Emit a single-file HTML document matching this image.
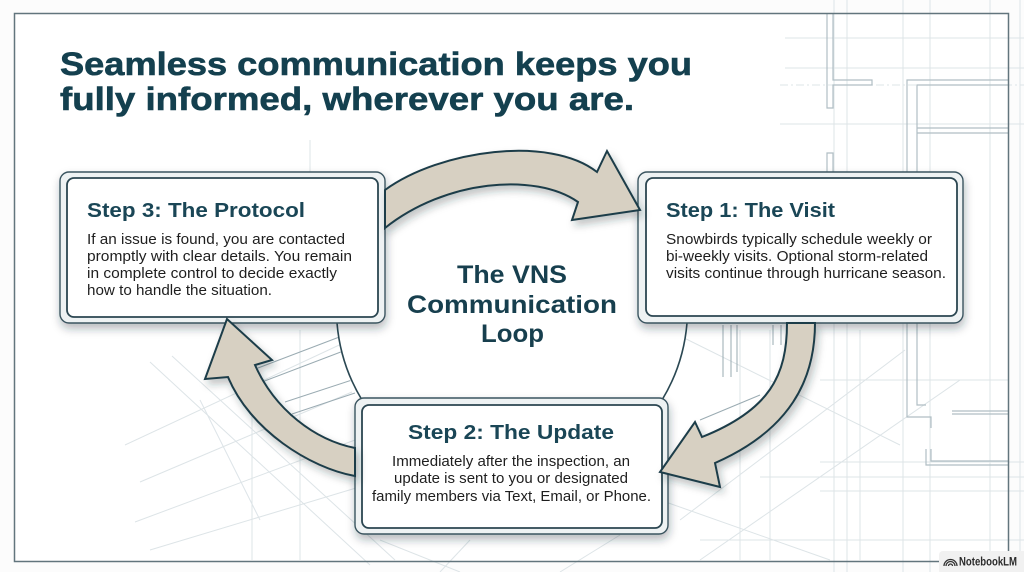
<!DOCTYPE html>
<html><head><meta charset="utf-8">
<style>
html,body{margin:0;padding:0;background:#fff;width:1024px;height:572px;overflow:hidden;}
svg{display:block;}
text{font-family:"Liberation Sans",Arial,sans-serif;}
</style></head><body>
<svg width="1024" height="572" viewBox="0 0 1024 572" xmlns="http://www.w3.org/2000/svg">
<defs>
<filter id="sh" x="-10%" y="-15%" width="120%" height="140%">
<feDropShadow dx="1" dy="5" stdDeviation="4.5" flood-color="#1b2a30" flood-opacity="0.32"/>
</filter>
<filter id="ash" x="-20%" y="-20%" width="140%" height="150%">
<feDropShadow dx="3" dy="5" stdDeviation="4" flood-color="#1b2a30" flood-opacity="0.28"/>
</filter>
</defs>

<rect width="1024" height="572" fill="#fcfcfc"/>
<rect x="14.5" y="13.5" width="994" height="548" fill="#ffffff"/>

<!-- light blueprint grid -->
<g stroke="#dde4e7" stroke-width="1" fill="none">
<line x1="834" y1="0" x2="834" y2="572"/>
<line x1="847" y1="0" x2="847" y2="572"/>
<line x1="903" y1="0" x2="903" y2="572"/>
<line x1="930" y1="0" x2="930" y2="572"/>
<line x1="990" y1="0" x2="990" y2="572"/>
<line x1="1020" y1="0" x2="1020" y2="572"/>
<line x1="785" y1="38" x2="1024" y2="38"/>
<line x1="785" y1="68" x2="1024" y2="68"/>
<line x1="780" y1="124" x2="1024" y2="124"/>
<line x1="820" y1="462" x2="1024" y2="462"/>
<line x1="760" y1="477" x2="1024" y2="477"/>
<line x1="820" y1="491" x2="1024" y2="491"/>
<line x1="700" y1="540" x2="1024" y2="540"/>
<line x1="780" y1="85" x2="1024" y2="85" stroke-dasharray="8 3 2 3"/>
<line x1="310" y1="140" x2="310" y2="175"/>
<!-- left / bottom perspective lines -->
<line x1="150" y1="362" x2="370" y2="565"/>
<line x1="172" y1="356" x2="395" y2="560"/>
<line x1="125" y1="445" x2="350" y2="340"/>
<line x1="140" y1="482" x2="352" y2="392"/>
<line x1="135" y1="522" x2="355" y2="440"/>
<line x1="150" y1="550" x2="356" y2="488"/>
<line x1="252" y1="340" x2="252" y2="560"/>
<line x1="300" y1="330" x2="300" y2="560"/>
<line x1="200" y1="400" x2="260" y2="520"/>
<line x1="380" y1="540" x2="460" y2="572"/>
<line x1="620" y1="535" x2="560" y2="572"/>
<line x1="470" y1="540" x2="440" y2="572"/>
<!-- right lower -->
<line x1="668" y1="330" x2="900" y2="445"/>
<line x1="680" y1="520" x2="905" y2="350"/>
<line x1="700" y1="560" x2="960" y2="380"/>
<line x1="740" y1="330" x2="740" y2="560"/>
<line x1="770" y1="330" x2="770" y2="560"/>
<line x1="660" y1="500" x2="830" y2="560"/>
<line x1="860" y1="330" x2="860" y2="560"/>
<line x1="820" y1="380" x2="1008" y2="380"/>
</g>

<!-- floor plan walls -->
<g stroke="#b0bec4" stroke-width="1.2" fill="none">
<path d="M827,13 L827,108 L833,108 L833,85 L872,85 L872,80 L833,80 L833,13"/>
<path d="M827,172 L827,153 L833,153 L833,172"/>
<path d="M1008,80 L907,80 L907,417 L931,417 L931,428"/>
<path d="M1008,85 L917,85 L917,405 L926,405"/>
<path d="M917,128 L1008,128"/>
<path d="M917,133 L1008,133"/>
<path d="M926,449 L926,465 L1008,465"/>
<path d="M931,449 L931,461 L1008,461"/>
<path d="M952,414 L1008,414"/>
<path d="M952,411 L1008,411"/>
</g>

<!-- hatch details near arrows -->
<g stroke="#9aabb2" stroke-width="1" fill="none">
<path d="M258,368 L342,336"/>
<path d="M262,382 L346,350"/>
<path d="M285,402 L352,380"/>
<path d="M292,414 L355,393"/>
<path d="M723,325 L723,377 M731,325 L731,377 M737,325 L737,372"/>
<path d="M773,325 L773,345 M781,325 L781,345"/>
<path d="M700,420 L760,395"/>
</g>

<!-- central circle -->
<circle cx="512" cy="311" r="176" fill="#ffffff"/>
<path d="M 337,323 A 176 176 0 0 0 362,400" fill="none" stroke="#2b4853" stroke-width="1.6"/>
<path d="M 687,323 A 176 176 0 0 1 662,400" fill="none" stroke="#2b4853" stroke-width="1.6"/>

<!-- frame -->
<rect x="14.5" y="13.5" width="994" height="548" fill="none" stroke="#62757d" stroke-width="1.5"/>

<!-- boxes -->
<g filter="url(#sh)">
<rect x="60" y="172" width="325" height="151" rx="9" fill="#eef2f3" stroke="#3a5560" stroke-width="1.4"/>
</g>
<rect x="67" y="178" width="311" height="139" rx="7" fill="#ffffff" stroke="#2b4651" stroke-width="1.8"/>

<g filter="url(#sh)">
<rect x="638" y="172" width="325" height="151" rx="9" fill="#eef2f3" stroke="#3a5560" stroke-width="1.4"/>
</g>
<rect x="646" y="178" width="311" height="138" rx="7" fill="#ffffff" stroke="#2b4651" stroke-width="1.8"/>

<g filter="url(#sh)">
<rect x="355" y="398" width="313" height="136" rx="9" fill="#eef2f3" stroke="#3a5560" stroke-width="1.4"/>
</g>
<rect x="362" y="405" width="300" height="123" rx="7" fill="#ffffff" stroke="#2b4651" stroke-width="1.8"/>

<!-- arrows -->
<g filter="url(#ash)" fill="#d7d0c2" stroke="#1f3d49" stroke-width="2" stroke-linejoin="miter">
<path d="M385,190 C440,150 550,135 597,172 L607,151 L640,210 L572,220 L578,202 C535,172 445,180 385,228 Z"/>
<path d="M787,323 C787,375 770,410 702,437 L695,422 L660,472 L720,487 L715,463 C790,430 815,380 815,323 Z"/>
<path d="M355,476 C310,468 250,430 228,377 L205,379 L227,319 L272,360 L255,365 C275,410 315,440 355,448 Z"/>
</g>

<!-- title -->
<g fill="#14404f" stroke="#14404f" stroke-width="0.6" font-weight="700" font-size="32">
<text x="60" y="75" textLength="632" lengthAdjust="spacingAndGlyphs">Seamless communication keeps you</text>
<text x="60" y="110" textLength="574" lengthAdjust="spacingAndGlyphs">fully informed, wherever you are.</text>
</g>

<!-- Step 3 -->
<text x="87" y="217" font-size="20" font-weight="700" fill="#1a4656" textLength="218" lengthAdjust="spacingAndGlyphs">Step 3: The Protocol</text>
<g font-size="15" fill="#1e1e1e">
<text x="87" y="244" textLength="258" lengthAdjust="spacingAndGlyphs">If an issue is found, you are contacted</text>
<text x="87" y="261" textLength="265" lengthAdjust="spacingAndGlyphs">promptly with clear details. You remain</text>
<text x="87" y="278" textLength="250" lengthAdjust="spacingAndGlyphs">in complete control to decide exactly</text>
<text x="87" y="295" textLength="185" lengthAdjust="spacingAndGlyphs">how to handle the situation.</text>
</g>

<!-- Step 1 -->
<text x="666" y="217" font-size="20" font-weight="700" fill="#1a4656" textLength="169" lengthAdjust="spacingAndGlyphs">Step 1: The Visit</text>
<g font-size="15" fill="#1e1e1e">
<text x="666" y="244" textLength="266" lengthAdjust="spacingAndGlyphs">Snowbirds typically schedule weekly or</text>
<text x="666" y="261" textLength="262" lengthAdjust="spacingAndGlyphs">bi-weekly visits. Optional storm-related</text>
<text x="666" y="278" textLength="280" lengthAdjust="spacingAndGlyphs">visits continue through hurricane season.</text>
</g>

<!-- Step 2 -->
<text x="408" y="439" font-size="20" font-weight="700" fill="#1a4656" textLength="206" lengthAdjust="spacingAndGlyphs">Step 2: The Update</text>
<g font-size="14.5" fill="#1e1e1e">
<text x="392" y="466" textLength="238" lengthAdjust="spacingAndGlyphs">Immediately after the inspection, an</text>
<text x="394" y="483" textLength="234" lengthAdjust="spacingAndGlyphs">update is sent to you or designated</text>
<text x="372" y="501" textLength="279" lengthAdjust="spacingAndGlyphs">family members via Text, Email, or Phone.</text>
</g>

<!-- center label -->
<g font-size="25" font-weight="700" fill="#173f4e">
<text x="457" y="283" textLength="110" lengthAdjust="spacingAndGlyphs">The VNS</text>
<text x="407" y="313" textLength="210" lengthAdjust="spacingAndGlyphs">Communication</text>
<text x="481" y="342" textLength="63" lengthAdjust="spacingAndGlyphs">Loop</text>
</g>

<!-- watermark -->
<rect x="939" y="551" width="90" height="24" rx="4" fill="#f1f1f1"/>
<g fill="none" stroke="#333" stroke-width="1.3">
<path d="M946,566 a4.5,4.5 0 0 1 9,0"/>
<path d="M948.5,566 a2,2 0 0 1 4,0"/>
<path d="M944,566 a6.5,6.5 0 0 1 13,0"/>
</g>
<text x="959" y="565.5" font-size="11.5" font-weight="700" fill="#2a2a2a" textLength="58" lengthAdjust="spacingAndGlyphs">NotebookLM</text>
</svg>
</body></html>
